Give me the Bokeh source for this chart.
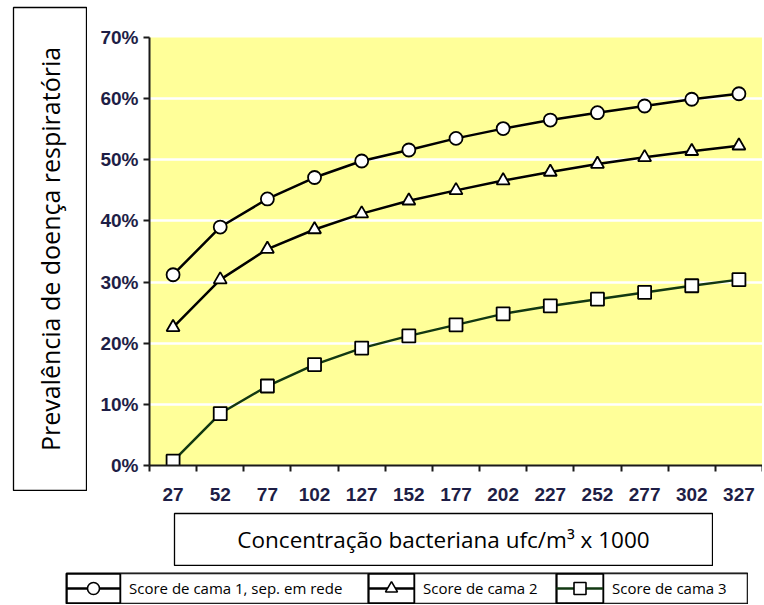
from bokeh.plotting import figure
from bokeh.layouts import row, column
from bokeh.models import (Range1d, FixedTicker, PrintfTickFormatter, BoxAnnotation,
                          Label, Legend, LegendItem, Spacer)
from bokeh.embed import file_html
from bokeh.resources import INLINE

# ---- data ----
concentracao = [27, 52, 77, 102, 127, 152, 177, 202, 227, 252, 277, 302, 327]
score1 = [31.2, 39.0, 43.6, 47.1, 49.8, 51.6, 53.5, 55.1, 56.5, 57.7, 58.8, 59.9, 60.8]
score2 = [22.6, 30.4, 35.4, 38.6, 41.2, 43.3, 45.0, 46.6, 48.0, 49.3, 50.4, 51.4, 52.3]
score3 = [0.7, 8.5, 13.0, 16.5, 19.2, 21.2, 23.0, 24.8, 26.1, 27.2, 28.3, 29.4, 30.4]
y_ticks = [0, 10, 20, 30, 40, 50, 60, 70]
series_names = ["Score de cama 1, sep. em rede", "Score de cama 2", "Score de cama 3"]
x_title = "Concentração bacteriana ufc/m³ x 1000"
y_title = "Prevalência de doença respiratória"

# ---- styles ----
line_colors = ["black", "black", "#123812"]
markers = ["circle", "triangle", "square"]
title_font = "Open Sans"
tick_color = "#1e1e46"

step = concentracao[1] - concentracao[0]
x_bounds = [c - step / 2 for c in concentracao] + [concentracao[-1] + step / 2]


def blank_fig(width, height, outline=1.3):
    f = figure(width=width, height=height, output_backend="svg", toolbar_location=None,
               x_axis_location=None, y_axis_location=None,
               min_border_left=1, min_border_right=1, min_border_top=1, min_border_bottom=1)
    f.xgrid.visible = False
    f.ygrid.visible = False
    f.outline_line_color = "black"
    f.outline_line_width = outline
    f.background_fill_color = "white"
    f.border_fill_color = "white"
    return f


# ---- y title box ----
fy = blank_fig(75, 485)
fy.add_layout(Label(x=36.5, y=241.5, x_units="screen", y_units="screen", text=y_title,
                    angle=90, angle_units="deg", text_align="center", text_baseline="middle",
                    text_font=title_font, text_font_size="25px", text_color="black"))

# ---- main chart ----
p = figure(width=672, height=510, output_backend="svg", toolbar_location=None,
           x_range=Range1d(x_bounds[0], x_bounds[-1]), y_range=Range1d(0, 70),
           min_border_left=59, min_border_right=0, min_border_top=37, min_border_bottom=45)
p.background_fill_color = "#FFFF99"
p.border_fill_color = "white"
p.outline_line_color = None
p.xgrid.grid_line_color = None
p.ygrid.grid_line_color = "white"
p.ygrid.grid_line_width = 2.5

for ax in (p.xaxis[0], p.yaxis[0]):
    ax.axis_line_color = "#1a1a1a"
    ax.axis_line_width = 2
    ax.major_label_text_font = "Liberation Sans"
    ax.major_label_text_font_style = "bold"
    ax.major_label_text_font_size = "19px"
    ax.major_label_text_color = tick_color

p.xaxis.ticker = FixedTicker(ticks=concentracao, minor_ticks=x_bounds)
p.xaxis.major_tick_out = 0
p.xaxis.major_tick_in = 0
p.xaxis.minor_tick_out = 6
p.xaxis.minor_tick_in = 0
p.xaxis.minor_tick_line_width = 2
p.xaxis.minor_tick_line_color = "#1a1a1a"
p.xaxis.major_label_standoff = 16

p.yaxis.ticker = FixedTicker(ticks=y_ticks)
p.yaxis.formatter = PrintfTickFormatter(format="%d%%")
p.yaxis.major_tick_out = 6
p.yaxis.major_tick_in = 0
p.yaxis.major_tick_line_width = 2
p.yaxis.major_tick_line_color = "#1a1a1a"
p.yaxis.minor_tick_out = 0
p.yaxis.minor_tick_in = 0
p.yaxis.major_label_standoff = 5

all_scores = [score1, score2, score3]
for ys, lc, mk in zip(all_scores, line_colors, markers):
    p.line(concentracao, ys, line_color=lc, line_width=2.5)
    p.scatter(concentracao, ys, marker=mk, size=13, fill_color="white",
              line_color="black", line_width=1.8)

# ---- x title box ----
fx = blank_fig(540, 54)
fx.add_layout(Label(x=269, y=26, x_units="screen", y_units="screen", text=x_title,
                    text_align="center", text_baseline="middle",
                    text_font=title_font, text_font_size="22.5px", text_color="black"))

# ---- legend strip ----
LEG_L, LEG_R, LEG_H = 66, 747, 30
fl = blank_fig(LEG_R - LEG_L + 2, LEG_H + 2, outline=2)
fl.x_range = Range1d(LEG_L, LEG_R)
fl.y_range = Range1d(0, LEG_H)
segs = [(66, 120, 368), (368, 414, 556), (556, 603, 747)]
for (a, b, c) in segs:
    fl.add_layout(BoxAnnotation(left=a, right=b, bottom=0, top=LEG_H, fill_alpha=0,
                                line_color="black", line_width=2, line_alpha=1))
    fl.add_layout(BoxAnnotation(left=b, right=c, bottom=0, top=LEG_H, fill_color="white",
                                fill_alpha=1, line_color="black", line_width=1.5, line_alpha=1))

for (a, b, c), name, ys, lc, mk in zip(segs, series_names, all_scores, line_colors, markers):
    # hidden copies of the series, used only to draw the legend samples
    lr = fl.line(concentracao, ys, line_color=lc, line_width=2.5, visible=False)
    mr = fl.scatter(concentracao, ys, marker=mk, size=11, fill_color="white",
                    line_color="black", line_width=1.6, visible=False)
    leg = Legend(items=[LegendItem(label=name, renderers=[lr, mr])],
                 location=(a - LEG_L, 0), orientation="horizontal",
                 glyph_width=b - a, glyph_height=LEG_H,
                 label_standoff=9, label_width=c - b - 9, label_height=LEG_H,
                 padding=0, margin=0, spacing=0,
                 border_line_color=None, background_fill_alpha=0,
                 inactive_fill_alpha=0,
                 label_text_font="Open Sans", label_text_font_size="15px",
                 label_text_color="black")
    fl.add_layout(leg)

top = row(Spacer(width=12), column(Spacer(height=6), fy), Spacer(width=3), p)
layout = column(top,
                Spacer(height=2),
                row(Spacer(width=173), fx),
                Spacer(height=6),
                row(Spacer(width=65), fl))
open("out.html", "w").write(file_html(layout, INLINE))
